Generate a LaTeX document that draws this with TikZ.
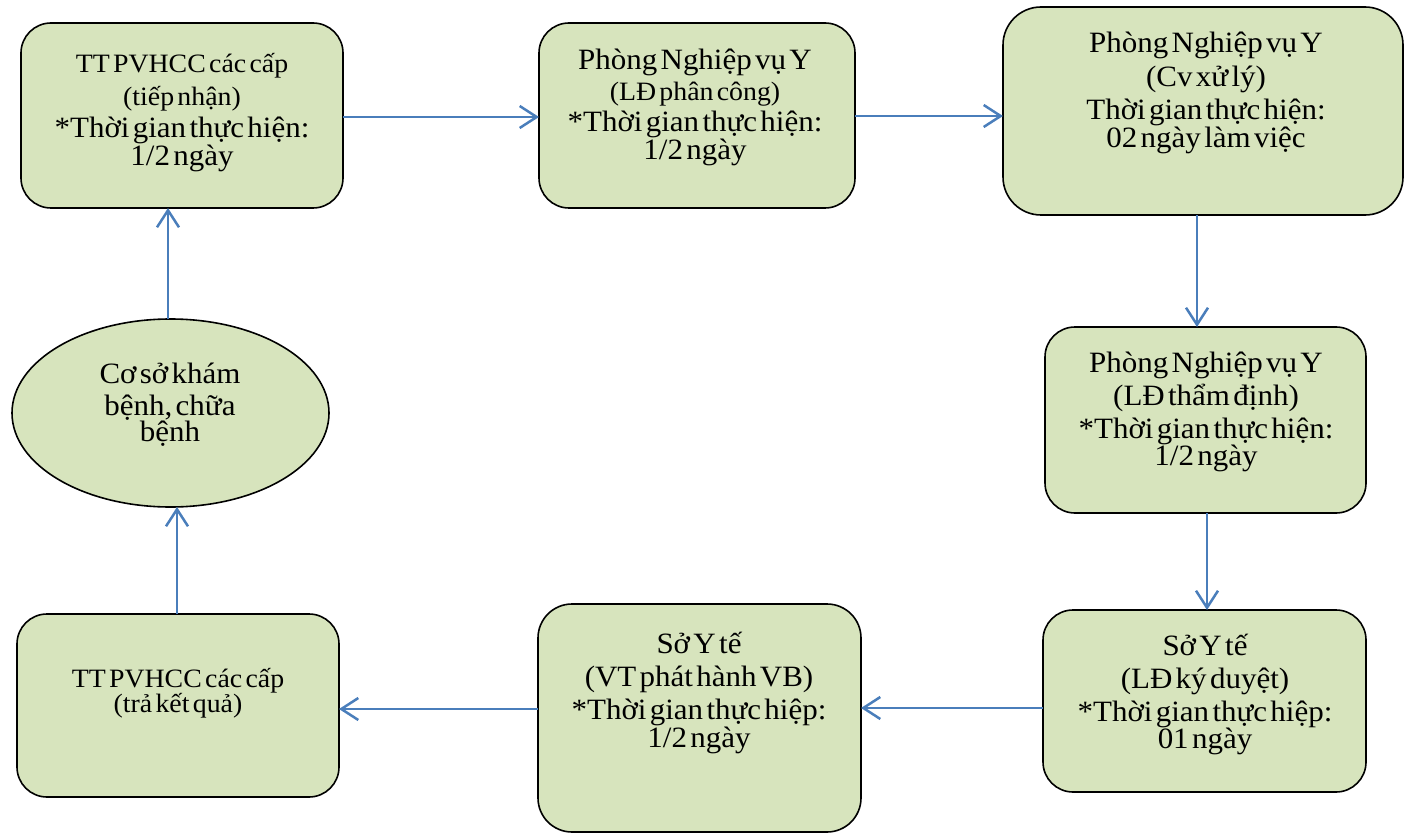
\documentclass[tikz,border=0pt]{standalone}
\usepackage{fontspec}
\setmainfont{Liberation Serif}[FakeStretch=1.05]
\usetikzlibrary{arrows.meta,shapes.geometric}
\definecolor{boxfill}{RGB}{215,228,189}
\definecolor{arrowblue}{RGB}{74,126,187}
\setlength{\lineskiplimit}{-100pt}
\newcommand\bigtxt[1]{\fontsize{29.5}{#1}\selectfont}
\newcommand\smalltxt[1]{\fontsize{26.5}{#1}\selectfont}
\begin{document}
\begin{tikzpicture}[x=1pt,y=-1pt,
  box/.style={draw=black, line width=1.6pt, fill=boxfill, rounded corners=30pt, inner sep=0pt, outer sep=0pt},
  oval/.style={draw=black, line width=1.6pt, fill=boxfill, ellipse, inner sep=0pt, outer sep=0pt},
  lbl/.style={text width=390pt, align=center, anchor=base, inner sep=0pt},
  flow/.style={draw=arrowblue, line width=2.5pt, -{Straight Barb[length=17pt,width=22pt]}}]
\useasboundingbox (0,0) rectangle (1405,834);

% boxes
\node[box, minimum width=322pt, minimum height=185pt] (b1) at (182,115.5) {};
\node[box, minimum width=316pt, minimum height=185pt] (b2) at (697,115.5) {};
\node[box, minimum width=400pt, minimum height=208pt, rounded corners=38pt] (b3) at (1203,111) {};
\node[box, minimum width=321pt, minimum height=186pt] (b4) at (1205.5,420) {};
\node[box, minimum width=323pt, minimum height=182pt] (b5) at (1204.5,701) {};
\node[box, minimum width=323pt, minimum height=228pt, rounded corners=34pt] (b6) at (699.5,718) {};
\node[box, minimum width=322pt, minimum height=183pt] (b7) at (178,705.5) {};
\node[oval, minimum width=317pt, minimum height=188pt] (e) at (170.5,413) {};

% texts
\node[lbl] (t1) at (182,73) {\smalltxt{32.5}TT PVHCC các cấp\\(tiếp nhận)\\\bigtxt{32.5}{*}Thời gian thực hiện:\\1/2 ngày};
\node[lbl] (t2) at (695,70) {\bigtxt{31}Phòng Nghiệp vụ Y\\\smalltxt{31}(LĐ phân công)\\\bigtxt{31}{*}Thời gian thực hiện:\\1/2 ngày};
\node[lbl] (t3) at (1206,53) {\bigtxt{33.5}Phòng Nghiệp vụ Y\\(Cv xử lý)\\Thời gian thực hiện:\\02 ngày làm việc};
\node[lbl] (t4) at (1206,372) {\bigtxt{33}Phòng Nghiệp vụ Y\\(LĐ thẩm định)\\{*}Thời gian thực hiện:\\1/2 ngày};
\node[lbl] (t5) at (1205,655) {\bigtxt{33}Sở Y tế\\(LĐ ký duyệt)\\{*}Thời gian thực hiệp:\\01 ngày};
\node[lbl] (t6) at (699,653) {\bigtxt{33.3}Sở Y tế\\(VT phát hành VB)\\{*}Thời gian thực hiệp:\\1/2 ngày};
\node[lbl] (t7) at (178,687) {\smalltxt{31}TT PVHCC các cấp\\(trả kết quả)};
\node[lbl] (t8) at (170,383) {\bigtxt{32.5}Cơ sở khám\\bệnh, chữa\\bệnh};

% connectors
\draw[flow] ([yshift=-1.5pt]b1.east) -- ([yshift=-1.5pt]b1.east -| b2.west);
\draw[flow] ([yshift=-0.5pt]b2.east) -- ([yshift=-0.5pt]b2.east -| b3.west);
\draw[flow] ([xshift=-6pt]b3.south) -- ([xshift=-6pt]b3.south |- b4.north);
\draw[flow] ([xshift=1.5pt]b4.south) -- ([xshift=1.5pt]b4.south |- b5.north);
\draw[flow] ([yshift=-7pt]b5.west) -- ([yshift=-7pt]b5.west -| b6.east);
\draw[flow] ([yshift=9pt]b6.west) -- ([yshift=9pt]b6.west -| b7.east);
\draw[flow] ([xshift=-1pt]b7.north) -- ([xshift=-1pt]b7.north |- e.south);
\draw[flow] ([xshift=-2.5pt]e.north) -- ([xshift=-2.5pt]e.north |- b1.south);
\end{tikzpicture}
\end{document}
